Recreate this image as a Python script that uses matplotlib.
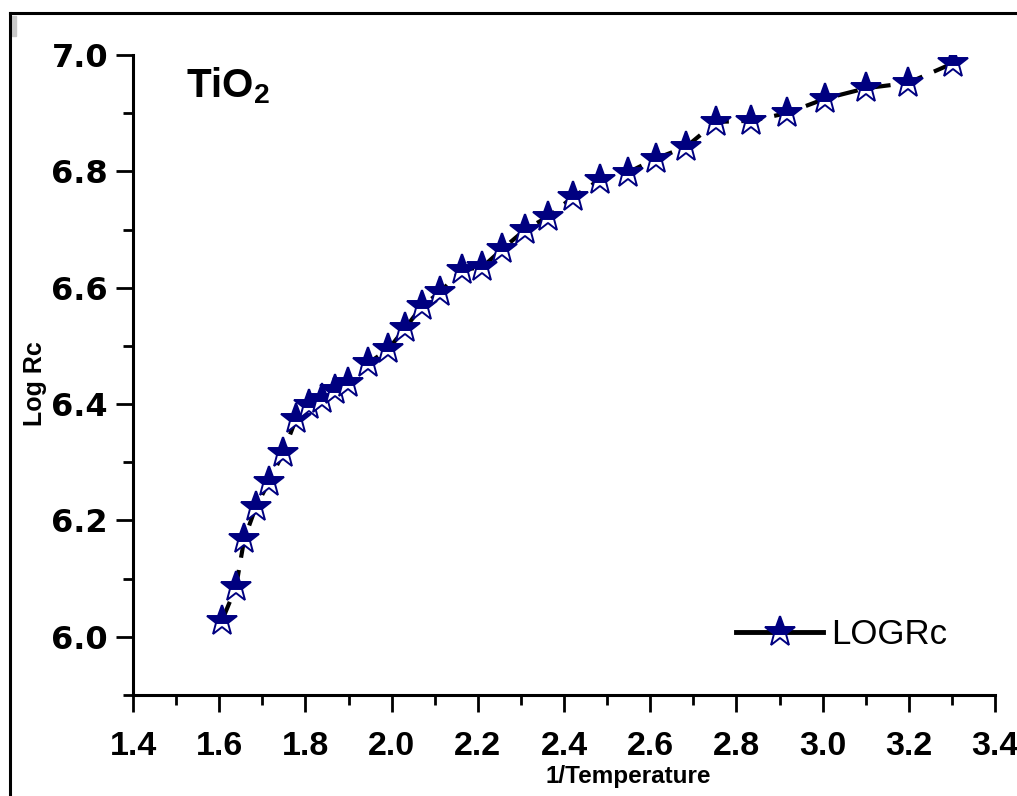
import numpy as np
import matplotlib.pyplot as plt
from matplotlib.lines import Line2D
from matplotlib.patches import Rectangle
from matplotlib.ticker import MultipleLocator

# data
inv_temp = [1.606, 1.639, 1.658, 1.685, 1.715, 1.748, 1.778, 1.808, 1.839,
            1.869, 1.899, 1.945, 1.992, 2.031, 2.071, 2.112, 2.163, 2.210,
            2.256, 2.310, 2.363, 2.421, 2.484, 2.548, 2.613, 2.683, 2.753,
            2.834, 2.917, 3.006, 3.101, 3.198, 3.303]
log_rc = [6.027, 6.086, 6.168, 6.223, 6.266, 6.316, 6.374, 6.398, 6.408,
          6.424, 6.437, 6.470, 6.494, 6.530, 6.569, 6.592, 6.631, 6.635,
          6.666, 6.700, 6.722, 6.756, 6.786, 6.798, 6.822, 6.842, 6.885,
          6.887, 6.900, 6.925, 6.943, 6.952, 6.986]
x_ticks = [1.4, 1.6, 1.8, 2.0, 2.2, 2.4, 2.6, 2.8, 3.0, 3.2, 3.4]
y_ticks = [6.0, 6.2, 6.4, 6.6, 6.8, 7.0]

navy = '#000080'
plt.rcParams['mathtext.fontset'] = 'custom'
plt.rcParams['mathtext.rm'] = 'Liberation Sans:bold'

fig = plt.figure(figsize=(10.17, 7.96), dpi=100)
ax = fig.add_axes([0.1308, 0.1269, 0.9784 - 0.1308, 0.9309 - 0.1269])

# dashed connecting line under the stars
ax.plot(inv_temp, log_rc, color='black', lw=3, linestyle=(0, (5, 3)),
        zorder=2)
ax.plot(inv_temp, log_rc, linestyle='none', marker='*', ms=22.5,
        color=navy, markerfacecolor=navy, markerfacecoloralt='white',
        fillstyle='top', markeredgecolor=navy, markeredgewidth=1.4,
        zorder=3)

ax.set_xlim(1.4, 3.4)
ax.set_ylim(5.9, 7.0)
ax.set_xticks(x_ticks)
ax.set_yticks(y_ticks)
ax.set_xticklabels(['%.1f' % v for v in x_ticks], fontfamily='Liberation Sans',
                   fontweight='bold', fontsize=24.5)
ax.set_yticklabels(['%.1f' % v for v in y_ticks], fontfamily='DejaVu Sans',
                   fontweight='bold', fontsize=23)
ax.xaxis.set_minor_locator(MultipleLocator(0.1))
ax.yaxis.set_minor_locator(MultipleLocator(0.1))
ax.tick_params(which='major', direction='out', length=12, width=2)
ax.tick_params(which='minor', direction='out', length=7, width=2)
ax.tick_params(axis='x', which='major', pad=14)
ax.tick_params(axis='y', which='major', pad=6)

for side in ['top', 'right']:
    ax.spines[side].set_visible(False)
for side in ['left', 'bottom']:
    ax.spines[side].set_linewidth(2.2)

ax.set_xlabel('1/Temperature', fontfamily='Liberation Sans', fontweight='bold',
              fontsize=17.5, va='center')
ax.set_ylabel('Log Rc', fontfamily='Liberation Sans', fontweight='bold',
              fontsize=18, va='center')
ax.xaxis.set_label_coords(0.574, -0.128)
ax.yaxis.set_label_coords(-0.114, 0.487)

ax.text(0.061, 0.934, r'TiO$_\mathregular{2}$', transform=ax.transAxes,
        fontfamily='Liberation Sans', fontweight='bold', fontsize=29,
        va='baseline')

# legend with solid line handle
handle = Line2D([], [], color='black', lw=3.5, marker='*', ms=22.5,
                markerfacecolor=navy, markerfacecoloralt='white',
                fillstyle='top', markeredgecolor=navy, markeredgewidth=1.4)
ax.legend([handle], ['LOGRc'], loc='center right', frameon=False,
          prop={'family': 'Liberation Sans', 'size': 25},
          handlelength=2.5, handletextpad=0.25, borderpad=0, borderaxespad=0,
          bbox_to_anchor=(0.945, 0.094))

# outer frame of the picture
fig.add_artist(Line2D([10 / 1017, 1], [1 - 13 / 796, 1 - 13 / 796],
                      color='black', lw=2.2, transform=fig.transFigure))
fig.add_artist(Line2D([10 / 1017, 10 / 1017], [0, 1 - 13 / 796],
                      color='black', lw=2.2, transform=fig.transFigure))
fig.add_artist(Rectangle((12 / 1017, 1 - 36 / 796), 4 / 1017, 20 / 796,
                         color='#c8c8c8', transform=fig.transFigure))

fig.savefig('out.png', dpi=100)
